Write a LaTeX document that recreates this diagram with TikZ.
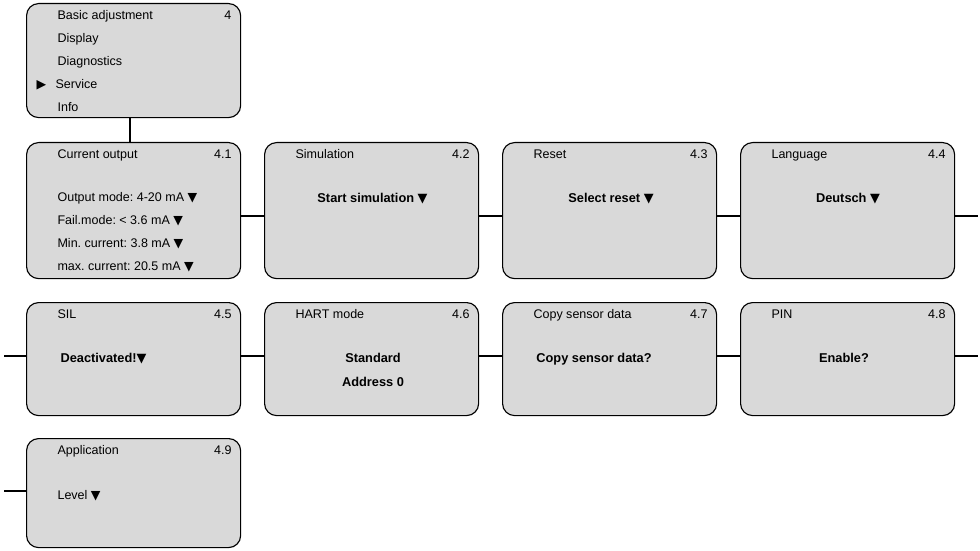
\documentclass[tikz,border=0pt]{standalone}
\usepackage{fontspec}
\setmainfont{Liberation Sans}
\newfontfamily\symfont{DejaVu Sans}
\usetikzlibrary{calc, positioning}
\definecolor{panelgray}{RGB}{217,217,217}
\newcommand{\dn}{{\symfont ▼}}
\newcommand{\rt}{{\symfont ▶}}
\frenchspacing

\begin{document}
\begin{tikzpicture}[x=0.025cm, y=-0.025cm, line width=0.8pt,
  font=\fontsize{8.9}{11}\selectfont,
  panel/.style={draw, fill=panelgray, rounded corners=0.3cm, minimum width=5.35cm,
    inner sep=0pt, anchor=north west},
  lbl/.style={anchor=base west, inner sep=0pt},
  num/.style={anchor=base east, inner sep=0pt},
  val/.style={anchor=base, inner sep=0pt, font=\fontsize{9.1}{11}\selectfont\bfseries}]
\useasboundingbox (0,0) rectangle (980,551);
% main menu
\node[panel, minimum height=2.85cm] (menu) at (26,3) {};
\foreach \i/\item in {0/Basic adjustment, 1/Display, 2/Diagnostics, 4/Info} {
  \node[lbl] (m\i) at (57,19.5+23*\i) {\item};
}
\node[lbl] (m3) at (55,88.5) {Service};
\node[lbl] (mark) at (36,88.5) {\rt};
\node[num] (mnum) at (232,19.5) {4};
% service submenu
\foreach \n/\x/\y/\h/\ttl in {1/26/142/3.4cm/Current output, 2/264/142/3.4cm/Simulation,
    3/502/142/3.4cm/Reset, 4/740/142/3.4cm/Language, 5/26/302/2.825cm/SIL,
    6/264/302/2.825cm/HART mode, 7/502/302/2.825cm/Copy sensor data,
    8/740/302/2.825cm/PIN, 9/26/438/2.725cm/Application} {
  \node[panel, minimum height=\h] (b\n) at (\x,\y) {};
  \node[lbl] (t\n) at ($(b\n.north west)+(31,16.5)$) {\ttl};
  \node[num] (n\n) at ($(b\n.north east)+(-9,16.5)$) {4.\n};
}
\node[lbl] (o1) at (57,201.5) {Output mode: 4-20 mA \dn};
\node[lbl] (o2) at (57,224.5) {Fail.mode: < 3.6 mA \dn};
\node[lbl] (o3) at (57,247.5) {Min. current: 3.8 mA \dn};
\node[lbl] (o4) at (57,270.5) {max. current: 20.5 mA \dn};
\node[val] (v2) at (372.5,202.5) {Start simulation \dn};
\node[val] (v3) at (611,202.5) {Select reset \dn};
\node[val] (v4) at (848,202.5) {Deutsch \dn};
\node[val, anchor=base west] (v5) at (60,362.5) {Deactivated!\dn};
\node[val] (v6) at (373,362.5) {Standard};
\node[val] (v6b) at (373,386.5) {Address 0};
\node[val] (v7) at (594,362.5) {Copy sensor data?};
\node[val] (v8) at (844,362.5) {Enable?};
\node[lbl] (v9) at (57,499.5) {Level \dn};
% connectors
\coordinate (r1) at (978,216);
\coordinate (l2) at (4,356);
\coordinate (r2) at (978,356);
\coordinate (l3) at (4,491);
\draw (menu.south -| 130,0) -- (b1.north -| 130,0);
\draw (b1.east |- r1) -- (b2.west |- r1) (b2.east |- r1) -- (b3.west |- r1)
  (b3.east |- r1) -- (b4.west |- r1);
\draw (b4.east |- r1) -- (r1);
\draw (l2) -- (b5.west |- l2);
\draw (b5.east |- l2) -- (b6.west |- l2) (b6.east |- l2) -- (b7.west |- l2)
  (b7.east |- l2) -- (b8.west |- l2);
\draw (b8.east |- r2) -- (r2);
\draw (l3) -- (b9.west |- l3);
\end{tikzpicture}
\end{document}
